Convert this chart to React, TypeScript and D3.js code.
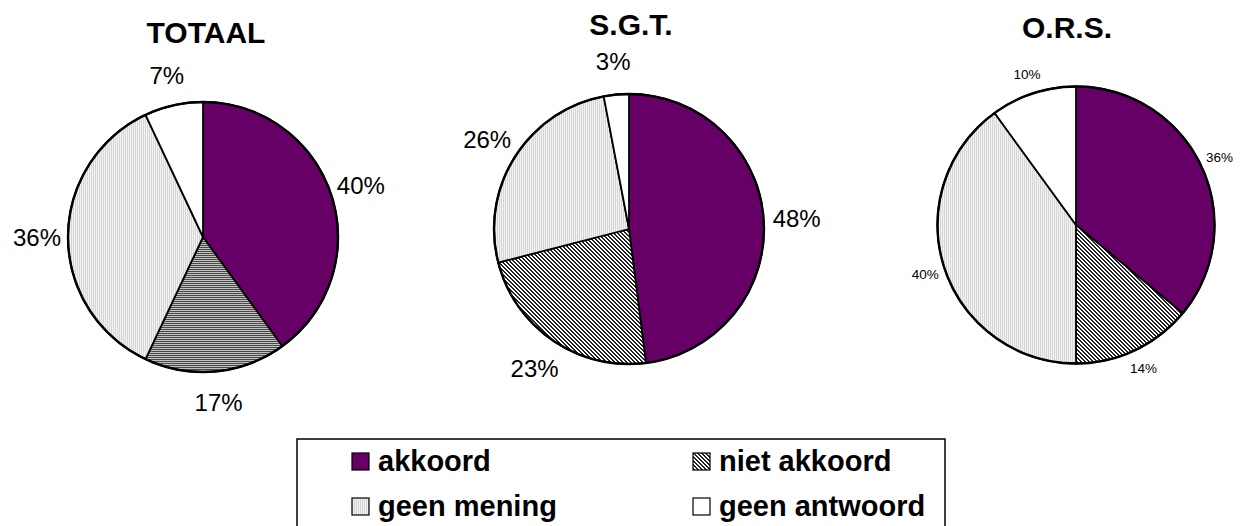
import React from "react";
import * as d3 from "d3";

const categories = ["akkoord", "niet akkoord", "geen mening", "geen antwoord"];
const groups = ["TOTAAL", "S.G.T.", "O.R.S."];
const totaalValues = [40, 17, 36, 7];
const sgtValues = [48, 23, 26, 3];
const orsValues = [36, 14, 40, 10];

const W = 1247;
const H = 526;
const FONT = "'Liberation Sans', Arial, Helvetica, sans-serif";

type PieSpec = {
  title: string;
  values: number[];
  cx: number;
  cy: number;
  r: number;
  titleY: number;
  titleX: number;
  labelSize: number;
  labelGap: number;
  nietFill: string;
};

const pies: PieSpec[] = [
  { title: groups[0], values: totaalValues, cx: 203, cy: 237, r: 135, titleX: 206, titleY: 43, labelSize: 24, labelGap: 31, nietFill: "url(#hstripe)" },
  { title: groups[1], values: sgtValues, cx: 629, cy: 229, r: 135, titleX: 631, titleY: 35, labelSize: 24, labelGap: 33, nietFill: "url(#diag)" },
  { title: groups[2], values: orsValues, cx: 1076, cy: 225, r: 138.5, titleX: 1067, titleY: 38, labelSize: 13.5, labelGap: 20, nietFill: "url(#diag)" },
];

const baseFills = ["#660066", "url(#diag)", "url(#dots)", "#ffffff"];

function Pie({ spec }: { spec: PieSpec }) {
  const pie = d3.pie<number>().sort(null).value((d) => d);
  const arcs = pie(spec.values);
  const arc = d3.arc<d3.PieArcDatum<number>>().innerRadius(0).outerRadius(spec.r);
  const labelArc = d3
    .arc<d3.PieArcDatum<number>>()
    .innerRadius(spec.r + spec.labelGap)
    .outerRadius(spec.r + spec.labelGap);
  const fills = [baseFills[0], spec.nietFill, baseFills[2], baseFills[3]];
  return (
    <g>
      <text
        x={spec.titleX}
        y={spec.titleY}
        textAnchor="middle"
        fontFamily={FONT}
        fontWeight="bold"
        fontSize={30}
        fill="#000"
      >
        {spec.title}
      </text>
      <g transform={`translate(${spec.cx},${spec.cy})`}>
        {arcs.map((a, i) => (
          <path key={i} d={arc(a) || ""} fill={fills[i]} stroke="#000" strokeWidth={1.8} strokeLinejoin="round" />
        ))}
        <circle r={spec.r} fill="none" stroke="#000" strokeWidth={2.4} />
        {arcs.map((a, i) => {
          const [x, y] = labelArc.centroid(a);
          return (
            <text
              key={"l" + i}
              x={x}
              y={y}
              dy="0.36em"
              textAnchor="middle"
              fontFamily={FONT}
              fontSize={spec.labelSize}
              fill="#000"
            >
              {`${a.data}%`}
            </text>
          );
        })}
      </g>
    </g>
  );
}

export default function App() {
  const legendX = 297;
  const legendY = 439;
  const legendCols = [352, 693];
  const legendRows = [453, 498];
  return (
    <svg
      width={W}
      height={H}
      viewBox={`0 0 ${W} ${H}`}
      style={{ position: "absolute", left: 0, top: 0, background: "#fff" }}
    >
      <defs>
        <pattern id="hstripe" width={4} height={2} patternUnits="userSpaceOnUse">
          <rect width={4} height={2} fill="#c0c0c0" />
          <rect width={4} height={1} fill="#4a4a4a" />
        </pattern>
        <pattern id="diag" width={4} height={4} patternUnits="userSpaceOnUse">
          <rect width={4} height={4} fill="#ffffff" />
          {[0, 1, 2, 3].map((k) => (
            <g key={k}>
              <rect x={k} y={k} width={1} height={1} fill="#222" />
              <rect x={(k + 1) % 4} y={k} width={1} height={1} fill="#222" />
            </g>
          ))}
        </pattern>
        <pattern id="dots" width={2} height={2} patternUnits="userSpaceOnUse">
          <rect width={2} height={2} fill="#f2f2f2" />
          <rect x={0} y={0} width={1} height={2} fill="#d6d6d6" />
        </pattern>
      </defs>
      <rect width={W} height={H} fill="#fff" />
      {pies.map((p) => (
        <Pie key={p.title} spec={p} />
      ))}
      <rect
        x={legendX}
        y={legendY}
        width={648}
        height={120}
        fill="#fff"
        stroke="#000"
        strokeWidth={1.5}
      />
      {categories.map((c, i) => {
        const col = i % 2;
        const row = Math.floor(i / 2);
        const x = legendCols[col];
        const y = legendRows[row];
        return (
          <g key={c}>
            <rect x={x} y={y} width={17} height={17} fill={baseFills[i]} stroke="#000" strokeWidth={1.2} />
            <text
              x={x + 26}
              y={y + 18}
              fontFamily={FONT}
              fontWeight="bold"
              fontSize={29}
              fill="#000"
            >
              {c}
            </text>
          </g>
        );
      })}
    </svg>
  );
}
